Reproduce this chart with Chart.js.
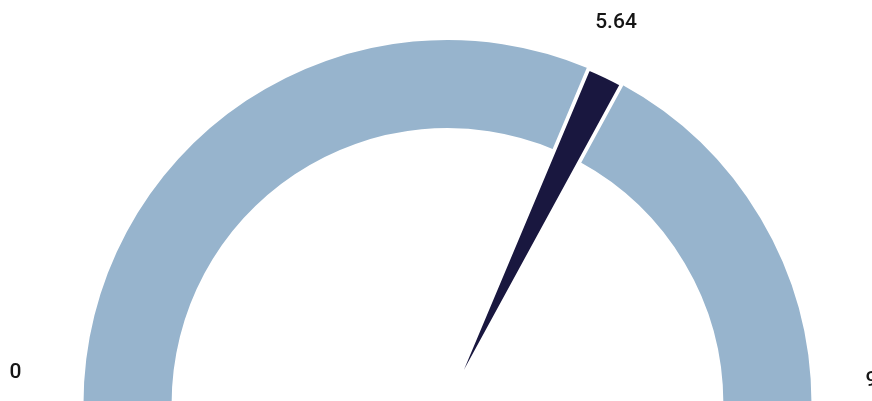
<html>

<head>
    <script src="https://cdn.jsdelivr.net/npm/chart.js@4.4.0/dist/chart.umd.min.js"></script>
    <style>
        body {
            margin: 0;
            overflow: hidden;
            background-color: #ffffff;
        }

        .gauge {
            position: absolute;
            left: 0;
            top: 0;
            width: 872px;
            height: 440px;
        }
    </style>
</head>

<body>
    <div class="gauge"><canvas id="gaugeRing"></canvas></div>
    <div class="gauge"><canvas id="gaugeNeedle"></canvas></div>
</body>
<script>
    const minValue = 0;
    const maxValue = 9;
    const currentValue = 5.64;
    const needleSpan = 0.29;
    const scaleLabels = ['0', '9'];
    const valueLabel = '5.64';

    const ringColor = '#97b4cd';
    const needleColor = '#19173f';
    const gapWidth = 3.8;

    // before needle / needle / after needle
    const segments = [currentValue - minValue, needleSpan, maxValue - currentValue - needleSpan];

    const sharedLayout = {
        padding: { left: 81.6, right: 58.6, top: 38.1, bottom: 34.1 }
    };

    const labelPlugin = {
        id: 'gaugeLabels',
        afterDraw(chart) {
            const arc = chart.getDatasetMeta(0).data[0];
            const cx = arc.x;
            const cy = arc.y;
            const ctx = chart.ctx;
            ctx.save();
            ctx.font = '500 21px Roboto';
            ctx.fillStyle = '#151515';
            ctx.textAlign = 'center';
            ctx.textBaseline = 'middle';
            ctx.fillText(scaleLabels[0], cx - 432, cy - 31);
            ctx.fillText(scaleLabels[1], cx + 424, cy - 23);
            ctx.fillText(valueLabel, cx + 168.5, cy - 381);
            ctx.restore();
        }
    };

    // blue band, with a hole where the needle goes
    new Chart('gaugeRing', {
        type: 'doughnut',
        data: {
            labels: ['', '', ''],
            datasets: [{
                data: segments,
                backgroundColor: [ringColor, 'rgba(0,0,0,0)', ringColor],
                borderColor: 'rgba(0,0,0,0)',
                borderWidth: gapWidth
            }]
        },
        options: {
            responsive: true,
            maintainAspectRatio: false,
            animation: false,
            events: [],
            rotation: -90,
            circumference: 180,
            cutout: '75.8%',
            layout: sharedLayout,
            plugins: {
                legend: { display: false },
                tooltip: { enabled: false }
            }
        }
    });

    // needle: a thin pie slice, white edges cut the gap and the tapered tip
    new Chart('gaugeNeedle', {
        type: 'pie',
        data: {
            labels: ['', '', ''],
            datasets: [{
                data: segments,
                backgroundColor: ['rgba(0,0,0,0)', needleColor, 'rgba(0,0,0,0)'],
                borderColor: '#ffffff',
                borderWidth: [0, gapWidth, 0]
            }]
        },
        options: {
            responsive: true,
            maintainAspectRatio: false,
            animation: false,
            events: [],
            rotation: -90,
            circumference: 180,
            layout: sharedLayout,
            plugins: {
                legend: { display: false },
                tooltip: { enabled: false }
            }
        },
        plugins: [labelPlugin]
    });
</script>

</html>
